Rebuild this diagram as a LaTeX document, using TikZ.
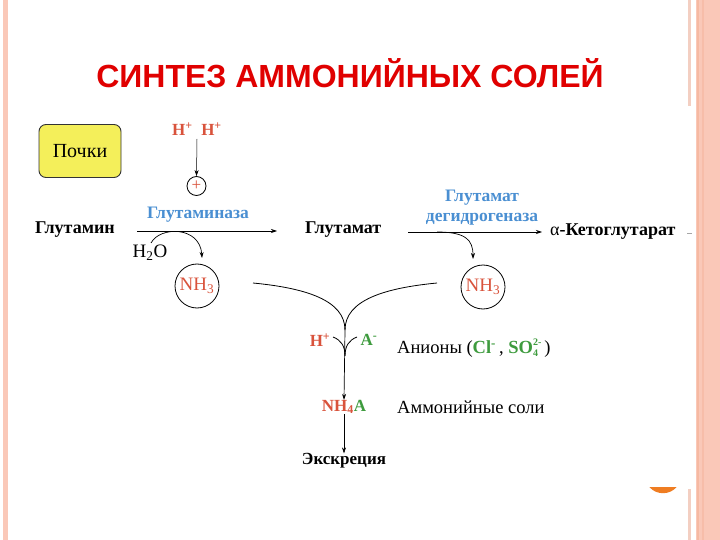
\documentclass[tikz,border=0pt]{standalone}
\usepackage{fontspec}
\setmainfont{Liberation Serif}
\newfontfamily\titlefont{Liberation Sans}
\usetikzlibrary{arrows.meta}
\definecolor{stripe}{HTML}{FAC8B8}
\definecolor{stripedark}{HTML}{F6B9A2}
\definecolor{thinstripe}{HTML}{F3CFC2}
\definecolor{titlered}{HTML}{E00000}
\definecolor{chemred}{HTML}{D9533C}
\definecolor{enzblue}{HTML}{4A8FD2}
\definecolor{chemgreen}{HTML}{3E9B3E}
\definecolor{boxyellow}{HTML}{F4EF5A}
\definecolor{dotorange}{HTML}{EF7D22}
\newcommand{\myscripts}[2]{\makebox[0pt][l]{\raisebox{-3.5pt}{\fontsize{10}{10}\selectfont #1}}\raisebox{8pt}{\fontsize{10}{10}\selectfont #2}}
\tikzset{
  lbl/.style={inner sep=0pt, font=\fontsize{18}{21}\selectfont\bfseries},
  enz/.style={inner sep=0pt, font=\fontsize{17.5}{21}\selectfont\bfseries, text=enzblue, align=center},
  plain/.style={inner sep=0pt, font=\fontsize{18.5}{21}\selectfont},
  nhcirc/.style={circle, draw, line width=0.8pt, minimum size=44pt, inner sep=0pt, text=chemred, font=\fontsize{19}{21}\selectfont},
  arr/.style={-{Stealth[length=6pt,width=4pt]}, line width=0.7pt},
  ln/.style={line width=0.8pt}
}
\begin{document}
\begin{tikzpicture}[x=1pt,y=-1pt]
\useasboundingbox (0,0) rectangle (720,540);
\fill[white] (0,0) rectangle (720,540);
% decorative stripes
\fill[stripe] (3,0) rectangle (8,540);
\fill[stripe] (696,0) rectangle (720,540);
\fill[stripedark] (697,0) rectangle (699,540);
\fill[stripedark!70!stripe] (702,0) rectangle (704,540);
\fill[thinstripe] (688,0) rectangle (691,106);
\fill[thinstripe] (688,489) rectangle (691,540);
\begin{scope}
\clip (640,487) rectangle (690,500);
\fill[dotorange] (663,475) circle (18.2);
\end{scope}
% title
\node[inner sep=0pt, text=titlered, font=\titlefont\fontsize{32}{36}\selectfont\bfseries] (title) at (350,73) {СИНТЕЗ АММОНИЙНЫХ СОЛЕЙ};
% Pochki box
\node[draw=black!80, line width=0.9pt, fill=boxyellow, rounded corners=7pt, minimum width=82pt, minimum height=53pt, font=\fontsize{20}{22}\selectfont] (pochki) at (80,151) {Почки};
% H+ H+
\node[inner sep=0pt, text=chemred, font=\fontsize{17}{20}\selectfont\bfseries] (hh) at (197,129) {H\textsuperscript{+}\ \ H\textsuperscript{+}};
\node[circle, draw, line width=0.8pt, minimum size=19pt, inner sep=0pt, text=chemred, font=\fontsize{17}{18}\selectfont] (plus) at (196.5,186) {\raisebox{-1pt}{+}};
\draw[arr, line width=0.5pt] (197,139) -- (plus.north);
% main row
\node[lbl, anchor=west] (glutamin) at (35,230) {Глутамин};
\node[lbl, anchor=west] (glutamat) at (305,230) {Глутамат};
\node[lbl, anchor=west] (keto) at (550,232) {{\mdseries α}-Кетоглутарат};
\coordinate (dash1) at (687,233);
\coordinate (dash2) at (692,233);
\draw[black!35, line width=0.6pt] (dash1) -- (dash2);
\coordinate (a1s) at (137,231);
\coordinate (a1e) at (277,231);
\coordinate (a2s) at (408,232);
\coordinate (a2e) at (542,232);
\draw[arr] (a1s) -- (a1e);
\draw[arr] (a2s) -- (a2e);
\node[enz] (glutaminaza) at (198,215) {Глутаминаза};
\node[enz] (gdh) at (482,208) {Глутамат\\[-1pt]дегидрогеназа};
\node[inner sep=0pt, font=\fontsize{19}{21}\selectfont] (h2o) at (150,253) {H\textsubscript{2}O};
\node[nhcirc] (nh3a) at (197,286) {NH\textsubscript{3}};
\node[nhcirc] (nh3b) at (483,287) {NH\textsubscript{3}};
\coordinate (c1s) at (151,243);
\draw[arr] (c1s) .. controls (160,226) and (200,226) .. (202,258);
\coordinate (c2s) at (437,232);
\draw[arr] (c2s) .. controls (466,232) and (473,240) .. (473,259);
% converging curves
\coordinate (l0) at (253,283);
\coordinate (r0) at (437,283);
\coordinate (m) at (345,330);
\draw[ln] (l0) .. controls (305,288) and (345,300) .. (m);
\draw[ln] (r0) .. controls (385,288) and (345,300) .. (m);
\node[inner sep=0pt, text=chemred, font=\fontsize{17}{19}\selectfont\bfseries] (hp) at (320,340) {H\textsuperscript{+}};
\node[inner sep=0pt, text=chemgreen, font=\fontsize{17}{19}\selectfont\bfseries] (am) at (369,340) {A\textsuperscript{-}};
\coordinate (hk1) at (333,337);
\coordinate (hk2) at (357,337);
\coordinate (j) at (345,356);
\draw[ln] (hk1) .. controls (341,340) and (345,346) .. (j);
\draw[ln] (hk2) .. controls (349,340) and (345,346) .. (j);
\node[inner sep=0pt, font=\fontsize{17}{19}\selectfont\bfseries] (nh4a) at (344,407) {\textcolor{chemred}{NH\textsubscript{4}}\textcolor{chemgreen}{A}};
\draw[arr] (m) -- (nh4a.north);
\node[lbl, font=\fontsize{17}{19}\selectfont\bfseries] (excr) at (344,461) {Экскреция};
\draw[arr, line width=0.5pt] (nh4a.south) -- (excr.north);
\node[plain, anchor=west] (anions) at (397,348) {Анионы (\textcolor{chemgreen}{\textbf{Cl}\textsuperscript{\textbf{-}}}\,, \textcolor{chemgreen}{\textbf{SO}\myscripts{\textbf{4}}{\textbf{2-}}}\,)};
\node[plain, anchor=west] (salts) at (397,407) {Аммонийные соли};
\end{tikzpicture}
\end{document}
